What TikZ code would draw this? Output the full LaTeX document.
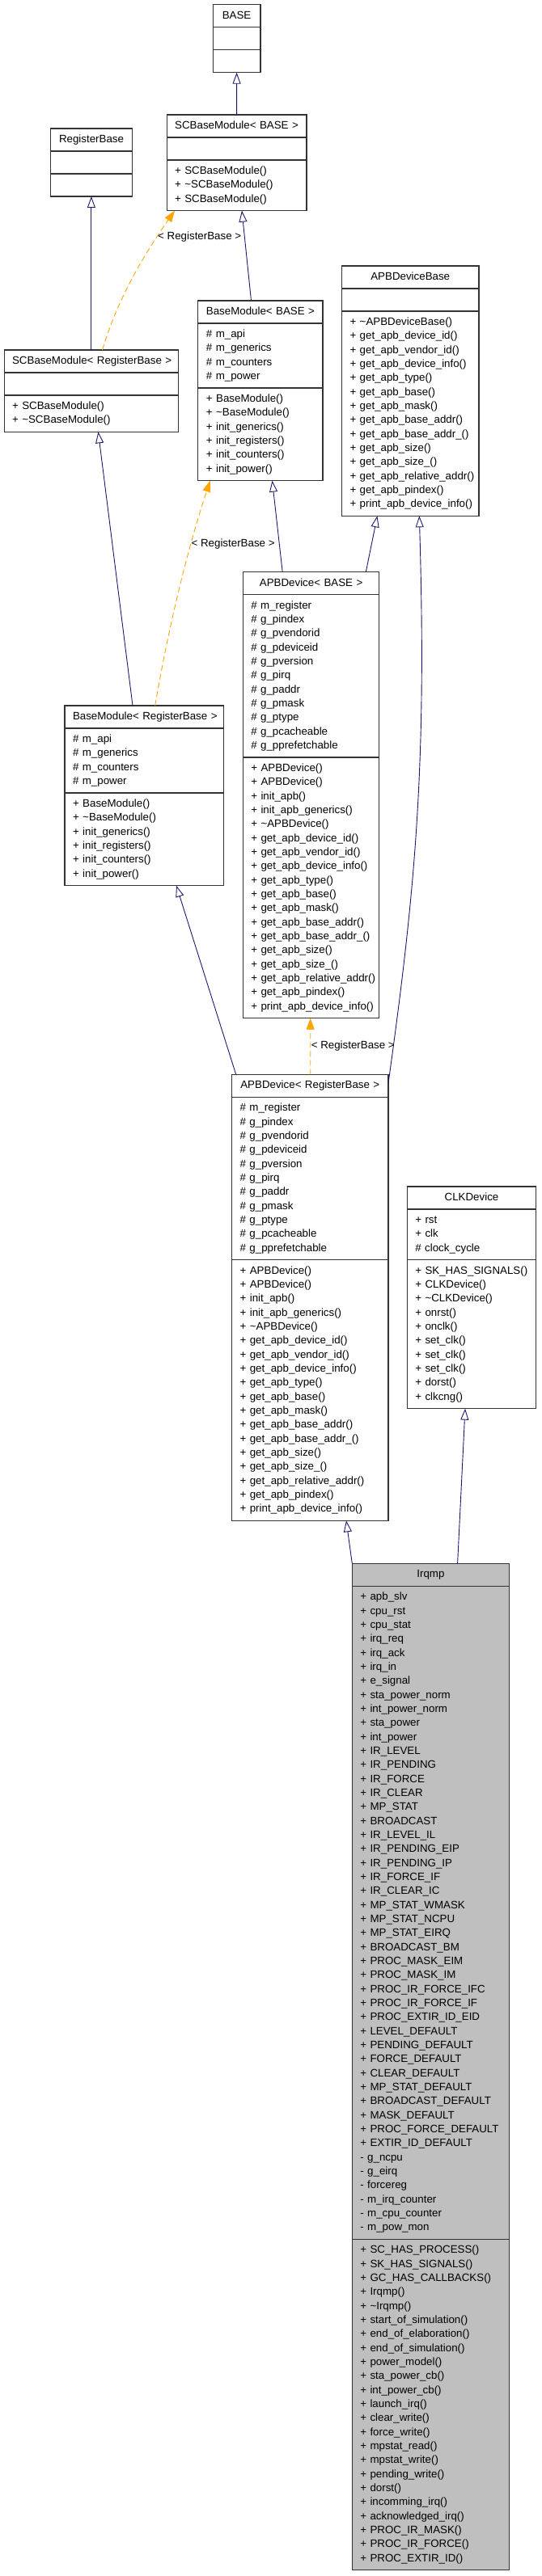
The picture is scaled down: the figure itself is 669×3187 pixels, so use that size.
\documentclass[tikz,border=0pt]{standalone}
\usepackage{fontspec}
\setmainfont{Liberation Sans}
\usetikzlibrary{arrows.meta}
\definecolor{edgeblue}{HTML}{191970}
\definecolor{tplorange}{HTML}{FFA500}
\definecolor{boxline}{HTML}{333333}
\definecolor{irqfill}{HTML}{BFBFBF}
\newcommand\Ln[1]{\strut\mbox{#1}}
\newcommand\umlfill{white}
\tikzset{
  sect/.style={draw=boxline, line width=1.1pt, fill=\umlfill, inner xsep=10pt, inner ysep=5.333pt,
    outer sep=0pt, anchor=north, font=\fontsize{13.33}{17.333}\selectfont},
  inh/.style={draw=edgeblue, line width=0.9pt, -{Triangle[open,length=14pt,width=10pt]}},
  tpl/.style={draw=tplorange, line width=0.9pt, dash pattern=on 7pt off 4pt,
    -{Triangle[length=14pt,width=10pt,fill=tplorange]}},
  tlabel/.style={anchor=west, inner sep=0pt, font=\fontsize{13.33}{17.333}\selectfont},
}
\newcommand\umlclass[7]{%
  \pgfmathsetmacro\umlx{(#2+#3)/2}%
  \pgfmathsetmacro\umltw{#3-#2-20}%
  \node[sect, text width=\umltw pt, align=center] (#1) at (\umlx,#4) {\Ln{#5}};
  \node[sect, text width=\umltw pt, align=left] (#1-a) at (#1.south) {#6};
  \node[sect, text width=\umltw pt, align=left] (#1-m) at (#1-a.south) {#7};
}
\newcommand\bmattrs{\Ln{\# m\_api}\\\Ln{\# m\_generics}\\\Ln{\# m\_counters}\\\Ln{\# m\_power}}
\newcommand\bmmethods{\Ln{+ BaseModule()}\\\Ln{+ \textasciitilde BaseModule()}\\\Ln{+ init\_generics()}\\\Ln{+ init\_registers()}\\\Ln{+ init\_counters()}\\\Ln{+ init\_power()}}
\newcommand\apbattrs{\Ln{\# m\_register}\\\Ln{\# g\_pindex}\\\Ln{\# g\_pvendorid}\\\Ln{\# g\_pdeviceid}\\\Ln{\# g\_pversion}\\\Ln{\# g\_pirq}\\\Ln{\# g\_paddr}\\\Ln{\# g\_pmask}\\\Ln{\# g\_ptype}\\\Ln{\# g\_pcacheable}\\\Ln{\# g\_pprefetchable}}
\newcommand\apbgetters{\Ln{+ get\_apb\_device\_id()}\\\Ln{+ get\_apb\_vendor\_id()}\\\Ln{+ get\_apb\_device\_info()}\\\Ln{+ get\_apb\_type()}\\\Ln{+ get\_apb\_base()}\\\Ln{+ get\_apb\_mask()}\\\Ln{+ get\_apb\_base\_addr()}\\\Ln{+ get\_apb\_base\_addr\_()}\\\Ln{+ get\_apb\_size()}\\\Ln{+ get\_apb\_size\_()}\\\Ln{+ get\_apb\_relative\_addr()}\\\Ln{+ get\_apb\_pindex()}\\\Ln{+ print\_apb\_device\_info()}}
\newcommand\apbmethods{\Ln{+ APBDevice()}\\\Ln{+ APBDevice()}\\\Ln{+ init\_apb()}\\\Ln{+ init\_apb\_generics()}\\\Ln{+ \textasciitilde APBDevice()}\\\apbgetters}
\newcommand\irqattrs{\Ln{+ apb\_slv}\\\Ln{+ cpu\_rst}\\\Ln{+ cpu\_stat}\\\Ln{+ irq\_req}\\\Ln{+ irq\_ack}\\\Ln{+ irq\_in}\\\Ln{+ e\_signal}\\\Ln{+ sta\_power\_norm}\\\Ln{+ int\_power\_norm}\\\Ln{+ sta\_power}\\\Ln{+ int\_power}\\\Ln{+ IR\_LEVEL}\\\Ln{+ IR\_PENDING}\\\Ln{+ IR\_FORCE}\\\Ln{+ IR\_CLEAR}\\\Ln{+ MP\_STAT}\\\Ln{+ BROADCAST}\\\Ln{+ IR\_LEVEL\_IL}\\\Ln{+ IR\_PENDING\_EIP}\\\Ln{+ IR\_PENDING\_IP}\\\Ln{+ IR\_FORCE\_IF}\\\Ln{+ IR\_CLEAR\_IC}\\\Ln{+ MP\_STAT\_WMASK}\\\Ln{+ MP\_STAT\_NCPU}\\\Ln{+ MP\_STAT\_EIRQ}\\\Ln{+ BROADCAST\_BM}\\\Ln{+ PROC\_MASK\_EIM}\\\Ln{+ PROC\_MASK\_IM}\\\Ln{+ PROC\_IR\_FORCE\_IFC}\\\Ln{+ PROC\_IR\_FORCE\_IF}\\\Ln{+ PROC\_EXTIR\_ID\_EID}\\\Ln{+ LEVEL\_DEFAULT}\\\Ln{+ PENDING\_DEFAULT}\\\Ln{+ FORCE\_DEFAULT}\\\Ln{+ CLEAR\_DEFAULT}\\\Ln{+ MP\_STAT\_DEFAULT}\\\Ln{+ BROADCAST\_DEFAULT}\\\Ln{+ MASK\_DEFAULT}\\\Ln{+ PROC\_FORCE\_DEFAULT}\\\Ln{+ EXTIR\_ID\_DEFAULT}\\\Ln{- g\_ncpu}\\\Ln{- g\_eirq}\\\Ln{- forcereg}\\\Ln{- m\_irq\_counter}\\\Ln{- m\_cpu\_counter}\\\Ln{- m\_pow\_mon}}
\newcommand\irqmethods{\Ln{+ SC\_HAS\_PROCESS()}\\\Ln{+ SK\_HAS\_SIGNALS()}\\\Ln{+ GC\_HAS\_CALLBACKS()}\\\Ln{+ Irqmp()}\\\Ln{+ \textasciitilde Irqmp()}\\\Ln{+ start\_of\_simulation()}\\\Ln{+ end\_of\_elaboration()}\\\Ln{+ end\_of\_simulation()}\\\Ln{+ power\_model()}\\\Ln{+ sta\_power\_cb()}\\\Ln{+ int\_power\_cb()}\\\Ln{+ launch\_irq()}\\\Ln{+ clear\_write()}\\\Ln{+ force\_write()}\\\Ln{+ mpstat\_read()}\\\Ln{+ mpstat\_write()}\\\Ln{+ pending\_write()}\\\Ln{+ dorst()}\\\Ln{+ incomming\_irq()}\\\Ln{+ acknowledged\_irq()}\\\Ln{+ PROC\_IR\_MASK()}\\\Ln{+ PROC\_IR\_FORCE()}\\\Ln{+ PROC\_EXTIR\_ID()}}
\begin{document}
\begin{tikzpicture}[x=1pt,y=-1pt]
\useasboundingbox (0,0) rectangle (669,3187);
\fill[white] (0,0) rectangle (669,3187);
% classes
\umlclass{base}{263.2}{322}{5.7}{BASE}{\strut}{\strut}
\umlclass{scb}{206.1}{379}{142}{SCBaseModule< BASE >}{\strut}{\Ln{+ SCBaseModule()}\\\Ln{+ \textasciitilde SCBaseModule()}\\\Ln{+ SCBaseModule()}}
\umlclass{rb}{62.6}{163.5}{159}{RegisterBase}{\strut}{\strut}
\umlclass{scbr}{5.1}{220.6}{433}{SCBaseModule< RegisterBase >}{\strut}{\Ln{+ SCBaseModule()}\\\Ln{+ \textasciitilde SCBaseModule()}}
\umlclass{bm}{244.9}{399}{372}{BaseModule< BASE >}{\bmattrs}{\bmmethods}
\umlclass{apbb}{422.5}{592}{329}{APBDeviceBase}{\strut}{\Ln{+ \textasciitilde APBDeviceBase()}\\\apbgetters}
\umlclass{apbd}{300.3}{468.9}{707.7}{APBDevice< BASE >}{\apbattrs}{\apbmethods}
\umlclass{bmr}{80}{276.8}{873}{BaseModule< RegisterBase >}{\bmattrs}{\bmmethods}
\umlclass{apbr}{286.6}{480}{1329.3}{APBDevice< RegisterBase >}{\apbattrs}{\apbmethods}
\umlclass{clk}{503.3}{662.7}{1468}{CLKDevice}{\Ln{+ rst}\\\Ln{+ clk}\\\Ln{\# clock\_cycle}}{\Ln{+ SK\_HAS\_SIGNALS()}\\\Ln{+ CLKDevice()}\\\Ln{+ \textasciitilde CLKDevice()}\\\Ln{+ onrst()}\\\Ln{+ onclk()}\\\Ln{+ set\_clk()}\\\Ln{+ set\_clk()}\\\Ln{+ set\_clk()}\\\Ln{+ dorst()}\\\Ln{+ clkcng()}}
\renewcommand\umlfill{irqfill}
\umlclass{irq}{435.3}{629.5}{1934.3}{Irqmp}{\irqattrs}{\irqmethods}
% inheritance
\draw[inh] ([xshift=86.5pt]scb.north west) -- ([xshift=29.4pt]base-m.south west);
\draw[inh] ([xshift=107.8pt]scbr.north west) -- ([xshift=50.3pt]rb-m.south west);
\draw[inh] ([xshift=65.6pt]bm.north west) -- ([xshift=92.9pt]scb-m.south west);
\draw[inh] ([xshift=84pt]bmr.north west) -- ([xshift=116.3pt]scbr-m.south west);
\draw[inh] ([xshift=48.9pt]apbd.north west) -- ([xshift=91.6pt]bm-m.south west);
\draw[inh] ([xshift=152pt]apbd.north west) -- ([xshift=43.9pt]apbb-m.south west);
\draw[inh] ([xshift=5.1pt]apbr.north west) -- ([xshift=138pt]bmr-m.south west);
\draw[inh] ([yshift=-10.7pt]apbr.north east) .. controls +(35,-250) and +(9,300) .. ([xshift=95.8pt]apbb-m.south west);
\draw[inh] (irq.north west) -- ([xshift=141.4pt]apbr-m.south west);
\draw[inh] ([xshift=130.3pt]irq.north west) -- ([xshift=71.7pt]clk-m.south west);
% template instantiation
\draw[tpl] ([xshift=121.4pt]scbr.north west) .. controls +(18,-60) and +(-42,60) .. ([xshift=9.9pt]scb-m.south west);
\draw[tpl] ([xshift=111.7pt]bmr.north west) .. controls +(15.3,-90) and +(-29.8,90) .. ([xshift=14.9pt]bm-m.south west);
\draw[tpl] ([xshift=97.1pt]apbr.north west) -- ([xshift=83.4pt]apbd-m.south west);
\node[tlabel] (lab1) at (195,293.3) {< RegisterBase >};
\node[tlabel] (lab2) at (236.4,672.7) {< RegisterBase >};
\node[tlabel] (lab3) at (384.6,1294) {< RegisterBase >};
\end{tikzpicture}
\end{document}
